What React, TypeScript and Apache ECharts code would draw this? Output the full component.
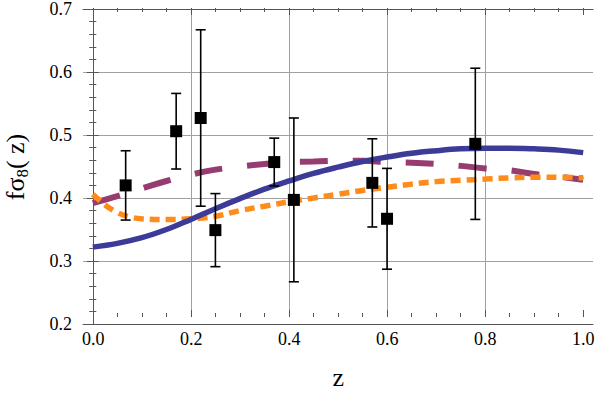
import React, { useEffect, useRef } from "react";
import * as echarts from "echarts";

// Curve samples (z, f sigma8)
const blueZ = [0, 0.05, 0.1, 0.15, 0.2, 0.25, 0.3, 0.35, 0.4, 0.45, 0.5, 0.55, 0.6, 0.65, 0.7, 0.75, 0.8, 0.85, 0.9, 0.95, 1.0];
const blueV = [0.322, 0.328, 0.337, 0.35, 0.366, 0.383, 0.399, 0.414, 0.427, 0.439, 0.449, 0.458, 0.465, 0.471, 0.475, 0.478, 0.479, 0.479, 0.478, 0.476, 0.472];

const orangeZ = [0, 0.025, 0.05, 0.075, 0.1, 0.15, 0.2, 0.25, 0.3, 0.35, 0.4, 0.45, 0.5, 0.55, 0.6, 0.65, 0.7, 0.75, 0.8, 0.85, 0.9, 0.95, 1.0];
const orangeV = [0.406, 0.389, 0.377, 0.37, 0.367, 0.366, 0.367, 0.371, 0.38, 0.387, 0.394, 0.4, 0.406, 0.412, 0.417, 0.422, 0.426, 0.428, 0.43, 0.432, 0.433, 0.433, 0.432];

const purpleZ = [0, 0.05, 0.1, 0.15, 0.2, 0.25, 0.3, 0.35, 0.4, 0.45, 0.5, 0.55, 0.6, 0.65, 0.7, 0.75, 0.8, 0.85, 0.9, 0.95, 1.0];
const purpleV = [0.392, 0.403, 0.415, 0.427, 0.437, 0.445, 0.45, 0.454, 0.457, 0.458, 0.459, 0.459, 0.457, 0.456, 0.454, 0.451, 0.447, 0.444, 0.438, 0.434, 0.429];

// Measurements
const obsZ = [0.067, 0.17, 0.22, 0.25, 0.37, 0.41, 0.57, 0.6, 0.78];
const obsV = [0.42, 0.506, 0.527, 0.349, 0.457, 0.397, 0.424, 0.367, 0.486];
const obsErr = [0.055, 0.06, 0.14, 0.058, 0.038, 0.13, 0.07, 0.08, 0.12];

const xTicks = [0, 0.2, 0.4, 0.6, 0.8, 1.0];
const yTicks = [0.2, 0.3, 0.4, 0.5, 0.6, 0.7];

const FONT = "Liberation Serif";
const FRAME = "#555";
const GRIDC = "#a0a0a0";

function zip(a: number[], b: number[]) {
  return a.map((v, i) => [v, b[i]]);
}

export default function App() {
  const ref = useRef<HTMLDivElement>(null);
  useEffect(() => {
    if (!ref.current) return;
    const chart = echarts.init(ref.current, null, { renderer: "svg" });
    const frameAxis = {
      type: "value",
      gridIndex: 0,
      min: -0.02,
      max: 1.02,
      axisLine: { show: true, lineStyle: { color: FRAME, width: 1 } },
      axisTick: { show: false },
      axisLabel: { show: false },
      splitLine: { show: false },
    };
    const xTickAxis = (pos: string, labels: boolean) => ({
      type: "value",
      gridIndex: 1,
      position: pos,
      min: xTicks[0],
      max: xTicks[xTicks.length - 1],
      interval: 0.2,
      axisLine: { show: false },
      axisTick: { show: true, inside: true, length: 7, lineStyle: { color: FRAME } },
      minorTick: { show: true, splitNumber: 4, length: 4, lineStyle: { color: FRAME } },
      axisLabel: labels
        ? { show: true, margin: 13, fontFamily: FONT, fontSize: 18, color: "#000", formatter: (v: number) => v.toFixed(1) }
        : { show: false },
      splitLine: labels
        ? { show: true, lineStyle: { color: ["transparent", GRIDC, GRIDC, GRIDC, GRIDC, "transparent"], width: 1 } }
        : { show: false },
      name: labels ? "z" : "",
      nameLocation: "middle",
      nameGap: 47,
      nameTextStyle: { fontFamily: FONT, fontSize: 26, color: "#000" },
    });
    const yFrameAxis = (pos: string, labels: boolean) => ({
      type: "value",
      gridIndex: 0,
      position: pos,
      min: yTicks[0],
      max: yTicks[yTicks.length - 1],
      interval: 0.1,
      axisLine: { show: true, lineStyle: { color: FRAME, width: 1 } },
      axisTick: { show: true, inside: true, length: 6, lineStyle: { color: FRAME } },
      minorTick: { show: true, splitNumber: 5, length: 3.5, lineStyle: { color: FRAME } },
      axisLabel: labels
        ? { show: true, margin: 11, fontFamily: FONT, fontSize: 18, color: "#000", formatter: (v: number) => v.toFixed(1) }
        : { show: false },
      splitLine: labels
        ? { show: true, lineStyle: { color: ["transparent", GRIDC, GRIDC, GRIDC, GRIDC, "transparent"], width: 1 } }
        : { show: false },
    });
    const option = {
      animation: false,
      backgroundColor: "#fff",
      grid: [
        { left: 83, right: 7, top: 8, bottom: 71 },
        { left: 93.2, right: 16.8, top: 8, bottom: 71 },
      ],
      graphic: [
        {
          type: "text",
          x: 15,
          y: 167,
          rotation: Math.PI / 2,
          style: {
            text: "{a|fσ}{b|8}{a|(\u00a0z)}",
            x: 0,
            y: 0,
            align: "center",
            verticalAlign: "middle",
            rich: {
              a: { fontFamily: FONT, fontSize: 26, fill: "#000", lineHeight: 32 },
              b: { fontFamily: FONT, fontSize: 17, fill: "#000", lineHeight: 32, verticalAlign: "bottom" },
            },
          },
        },
      ],
      xAxis: [
        { ...frameAxis, position: "bottom" },
        { ...frameAxis, position: "top" },
        xTickAxis("bottom", true),
        xTickAxis("top", false),
      ],
      yAxis: [
        yFrameAxis("left", true),
        yFrameAxis("right", false),
        {
          type: "value",
          gridIndex: 1,
          min: 0.2,
          max: 0.7,
          show: false,
        },
      ],
      series: [
        {
          type: "line",
          xAxisIndex: 0,
          yAxisIndex: 0,
          data: zip(purpleZ, purpleV),
          smooth: 0.4,
          showSymbol: false,
          lineStyle: { color: "#963c70", width: 6, type: [28, 25] },
          z: 2,
        },
        {
          type: "line",
          xAxisIndex: 0,
          yAxisIndex: 0,
          data: zip(orangeZ, orangeV),
          smooth: 0.4,
          showSymbol: false,
          lineStyle: { color: "#ff8c1a", width: 5.5, type: [10, 6] },
          z: 2,
        },
        {
          type: "line",
          xAxisIndex: 0,
          yAxisIndex: 0,
          data: zip(blueZ, blueV),
          smooth: 0.4,
          showSymbol: false,
          lineStyle: { color: "#3c3c98", width: 5.5 },
          z: 2,
        },
        {
          type: "custom",
          xAxisIndex: 0,
          yAxisIndex: 0,
          data: obsZ.map((z, i) => [z, obsV[i], obsErr[i]]),
          renderItem: (params: any, api: any) => {
            const x = api.value(0);
            const y = api.value(1);
            const e = api.value(2);
            const top = api.coord([x, y + e]);
            const bot = api.coord([x, y - e]);
            const cw = 5;
            const st = { stroke: "#000", lineWidth: 1.6 };
            return {
              type: "group",
              children: [
                { type: "line", shape: { x1: top[0], y1: top[1], x2: bot[0], y2: bot[1] }, style: st },
                { type: "line", shape: { x1: top[0] - cw, y1: top[1], x2: top[0] + cw, y2: top[1] }, style: st },
                { type: "line", shape: { x1: bot[0] - cw, y1: bot[1], x2: bot[0] + cw, y2: bot[1] }, style: st },
              ],
            };
          },
          z: 3,
        },
        {
          type: "scatter",
          xAxisIndex: 0,
          yAxisIndex: 0,
          data: zip(obsZ, obsV),
          symbol: "rect",
          symbolSize: 12,
          itemStyle: { color: "#000", opacity: 1 },
          z: 4,
        },
      ],
    };
    chart.setOption(option as any);
    return () => chart.dispose();
  }, []);
  return (
    <div
      ref={ref}
      style={{ position: "fixed", left: 0, top: 0, width: 600, height: 395 }}
    />
  );
}
